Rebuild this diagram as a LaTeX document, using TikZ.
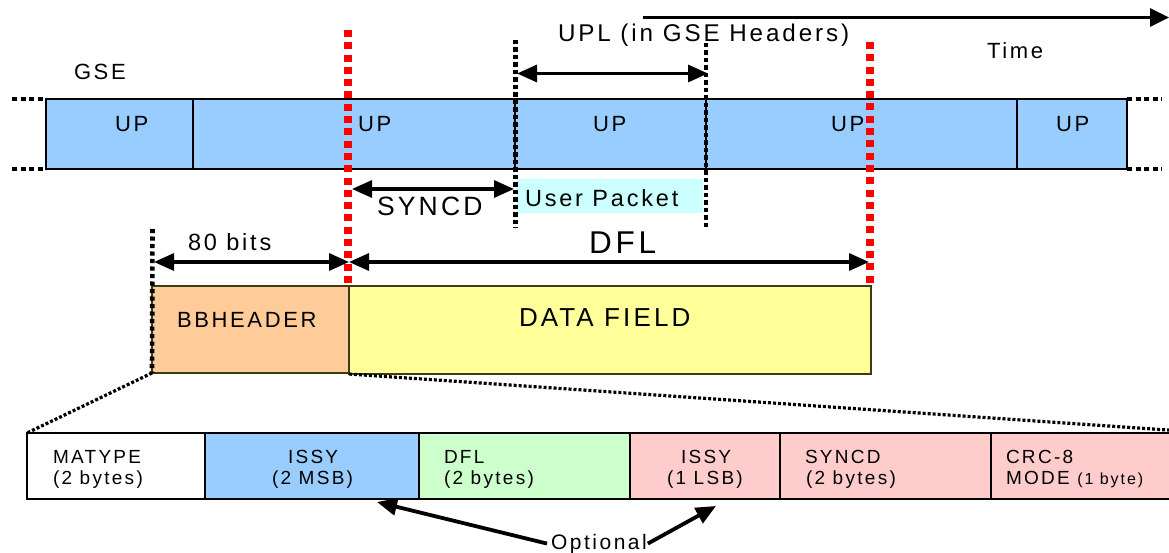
\documentclass[tikz,border=0pt]{standalone}
\usepackage{fontspec}
\setmainfont{Liberation Sans}[LetterSpace=12]
\usetikzlibrary{arrows.meta}
\definecolor{gseblue}{HTML}{99CCFF}
\definecolor{bborange}{HTML}{FFCC99}
\definecolor{dfyellow}{HTML}{FFFF99}
\definecolor{dflgreen}{HTML}{CCFFCC}
\definecolor{optpink}{HTML}{FFCCCC}
\definecolor{pktcyan}{HTML}{CCFFFF}
\definecolor{olivedark}{RGB}{60,60,20}
\definecolor{dotred}{HTML}{FF0000}
\begin{document}
\begin{tikzpicture}[x=1pt,y=-1pt,
  txt/.style={inner sep=0pt, outer sep=0pt, anchor=base west, font=\fontsize{22}{26}\selectfont},
  celltxt/.style={txt, font=\fontsize{19}{22}\selectfont},
  cell/.style={draw, line width=2.8pt, inner sep=0pt, outer sep=0pt, anchor=north west},
  fieldbox/.style={draw=olivedark, line width=2.2pt, inner sep=0pt, outer sep=0pt, anchor=north west},
  reddot/.style={dotred, line width=7.5pt, dash pattern=on 7pt off 5.3pt},
  blkdot/.style={black, line width=4.6pt, dash pattern=on 4.2pt off 3.3pt},
  extdot/.style={black, line width=4.5pt, dash pattern=on 5pt off 3.5pt},
  diagdot/.style={black, line width=3.2pt, dash pattern=on 3pt off 2pt},
  dimarrow/.style={line width=3.2pt, {Triangle[length=20pt,width=17pt]}-{Triangle[length=20pt,width=17pt]}},
  onearrow/.style={line width=3.2pt, -{Triangle[length=19pt,width=18pt]}},
  optarrow/.style={line width=3.8pt, -{Triangle[length=20pt,width=17pt]}}
]
\useasboundingbox (0,0) rectangle (1169,553);
\clip (0,0) rectangle (1169,553);

% ---------------- GSE bar ----------------
\node[cell, fill=gseblue, minimum width=147pt, minimum height=70pt] (g1) at (46,99) {};
\node[cell, fill=gseblue, minimum width=322pt, minimum height=70pt] (g2) at (193,99) {};
\node[cell, fill=gseblue, minimum width=191pt, minimum height=70pt] (g3) at (515,99) {};
\node[cell, fill=gseblue, minimum width=311pt, minimum height=70pt] (g4) at (706,99) {};
\node[cell, fill=gseblue, minimum width=110pt, minimum height=70pt] (g5) at (1017,99) {};

\coordinate (lt) at (12,99);
\coordinate (lb) at (12,169);
\coordinate (rt) at (1162,99);
\coordinate (rb) at (1162,169);
\draw[extdot] (lt) -- (g1.north west);
\draw[extdot] (lb) -- (g1.south west);
\draw[extdot] (g5.north east) -- (rt);
\draw[extdot] (g5.south east) -- (rb);

\node[txt] (up1) at (115,132) {UP};
\node[txt] (up2) at (358,132) {UP};
\node[txt] (up3) at (593,132) {UP};
\node[txt] (up4) at (831,132) {UP};
\node[txt] (up5) at (1056,132) {UP};

\node[txt] (gse) at (74,80) {GSE};
\node[txt] (time) at (987,59) {Time};
\node[txt, font=\fontsize{24.2}{28}\selectfont] (upl) at (558,42) {UPL (in GSE Headers)};

% time arrow
\coordinate (t0) at (643,17.5);
\coordinate (t1) at (1169,17.5);
\draw[onearrow] (t0) -- (t1);

% user packet
\node[cell, draw=none, fill=pktcyan, minimum width=186pt, minimum height=34pt] (pkt) at (517,179) {};
\node[txt, font=\fontsize{23.5}{28}\selectfont] (pkttxt) at (525,207) {User Packet};

% ---------------- BBFRAME ----------------
\node[fieldbox, fill=bborange, minimum width=197pt, minimum height=87pt] (bbh) at (152,286) {};
\node[fieldbox, fill=dfyellow, minimum width=522pt, minimum height=88pt] (df) at (349,286) {};
\node[txt] (bbhtxt) at (177,327) {BBHEADER};
\node[txt, font=\fontsize{26}{30}\selectfont] (dftxt) at (519,326) {DATA FIELD};

% ---------------- header fields ----------------
\node[cell, fill=white, minimum width=178pt, minimum height=66pt] (c1) at (27,433) {};
\node[cell, fill=gseblue, minimum width=214pt, minimum height=66pt] (c2) at (205,433) {};
\node[cell, fill=dflgreen, minimum width=211pt, minimum height=66pt] (c3) at (419,433) {};
\node[cell, fill=optpink, minimum width=150pt, minimum height=66pt] (c4) at (630,433) {};
\node[cell, fill=optpink, minimum width=211pt, minimum height=66pt] (c5) at (780,433) {};
\node[cell, fill=optpink, minimum width=220pt, minimum height=66pt] (c6) at (991,433) {};

\node[celltxt] (f1a) at (53,463) {MATYPE};
\node[celltxt] (f1b) at (53,484) {(2 bytes)};
\node[celltxt] (f2a) at (288,463) {ISSY};
\node[celltxt] (f2b) at (272,484) {(2 MSB)};
\node[celltxt] (f3a) at (444,463) {DFL};
\node[celltxt] (f3b) at (444,484) {(2 bytes)};
\node[celltxt] (f4a) at (681,463) {ISSY};
\node[celltxt] (f4b) at (667,484) {(1 LSB)};
\node[celltxt] (f5a) at (805,463) {SYNCD};
\node[celltxt] (f5b) at (806,484) {(2 bytes)};
\node[celltxt] (f6a) at (1006,463) {CRC-8};
\node[celltxt] (f6b) at (1006,484) {MODE {\fontsize{16}{18}\selectfont (1 byte)}};

% expansion dotted lines
\draw[diagdot] (bbh.south west) -- (c1.north west);
\draw[diagdot] (df.south west) -- (c6.north east);

% ---------------- markers ----------------
\coordinate (k1t) at (515.5,40);
\coordinate (k1b) at (515.5,228);
\coordinate (k2t) at (706,43);
\coordinate (k2b) at (706,228);
\coordinate (k3t) at (152.5,229);
\draw[blkdot] (k1t) -- (k1b);
\draw[blkdot] (k2t) -- (k2b);
\draw[blkdot] (k3t) -- (bbh.south west);

% dimension arrows
\coordinate (ua) at (517,73.5);
\coordinate (ub) at (708,73.5);
\draw[dimarrow] (ua) -- (ub);
\coordinate (sa) at (352,189);
\coordinate (sb) at (514,189);
\draw[dimarrow] (sa) -- (sb);
\node[txt, font=\fontsize{26.5}{30}\selectfont] (synctxt) at (377,216) {SYNCD};

\coordinate (ba) at (154,262);
\coordinate (bm) at (349,262);
\coordinate (bb) at (869,262);
\draw[dimarrow] (ba) -- (bm);
\draw[dimarrow] (bm) -- (bb);
\node[txt, font=\fontsize{23.5}{28}\selectfont] (bitstxt) at (188,251) {80 bits};
\node[txt, font=\fontsize{31.5}{36}\selectfont] (dfltxt) at (589,254) {DFL};

% red markers
\coordinate (r1t) at (348,30);
\coordinate (r1b) at (348,286);
\coordinate (r2t) at (870,42);
\coordinate (r2b) at (870,286);
\draw[reddot] (r1t) -- (r1b);
\draw[reddot] (r2t) -- (r2b);

% optional
\node[txt, font=\fontsize{21}{25}\selectfont] (opt) at (551,549) {Optional};
\coordinate (o1) at (377,502);
\coordinate (o2) at (716,506);
\draw[optarrow] ([xshift=-4pt]opt.west) -- (o1);
\draw[optarrow] ([xshift=1pt]opt.east) -- (o2);
\end{tikzpicture}
\end{document}
